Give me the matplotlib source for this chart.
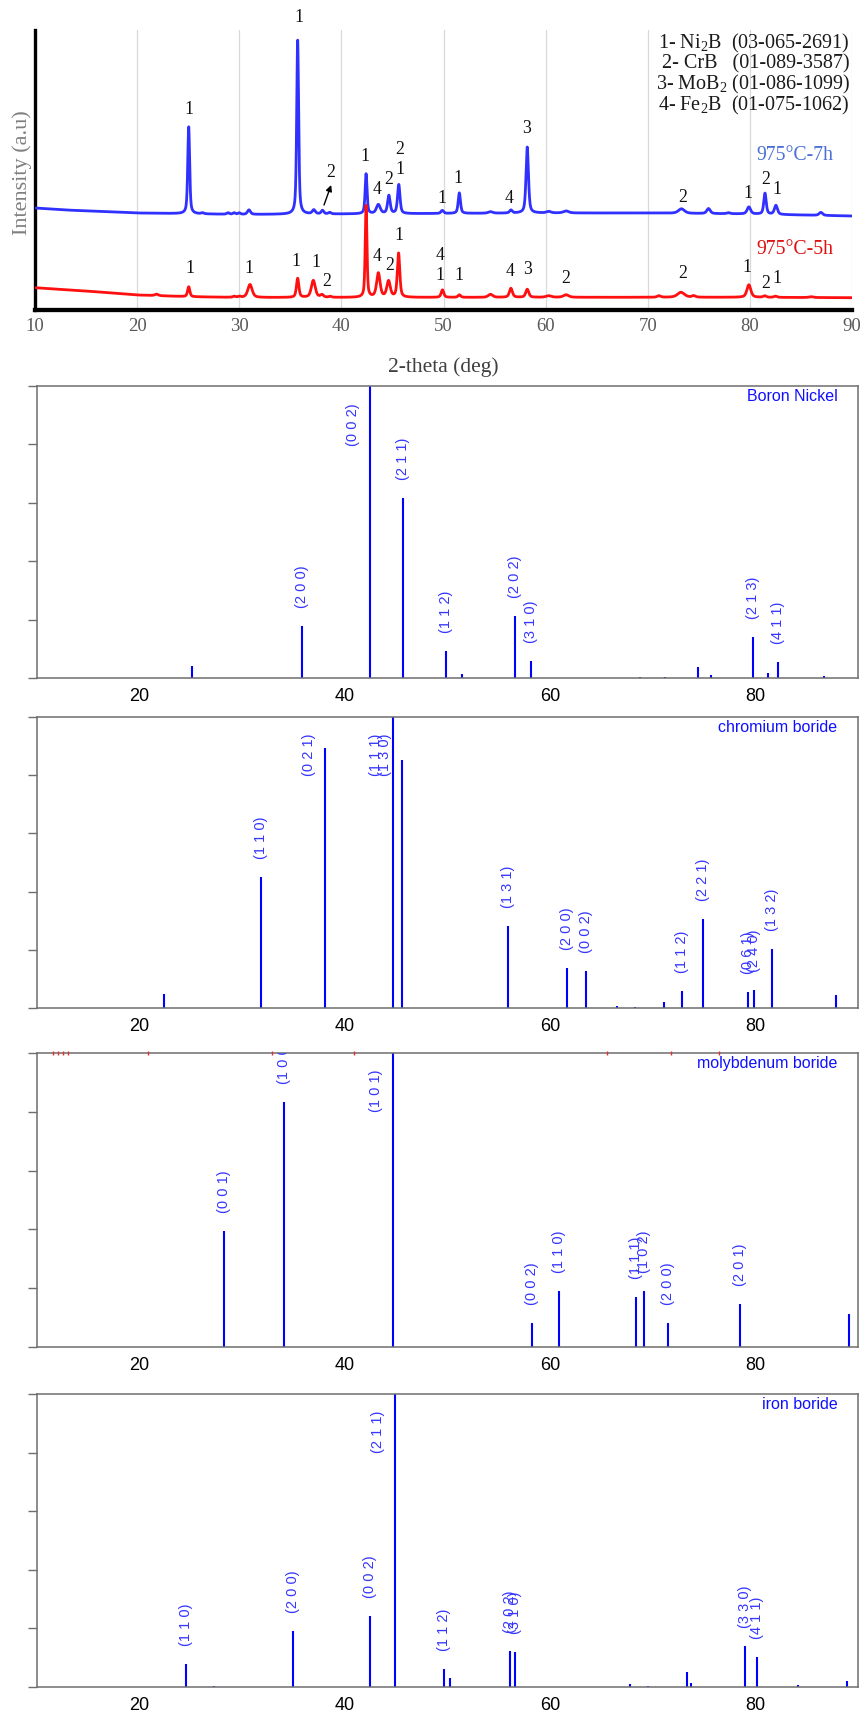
import numpy as np
import matplotlib
matplotlib.use("Agg")
import matplotlib.pyplot as plt
from matplotlib import transforms
from matplotlib.patches import Rectangle

plt.rcParams["mathtext.fontset"] = "custom"
plt.rcParams["mathtext.rm"] = "Liberation Serif"
plt.rcParams["mathtext.it"] = "Liberation Serif:italic"

SERIF = ["Liberation Serif", "DejaVu Serif"]
SANS = ["Liberation Sans", "DejaVu Sans"]

# ---------------- measured XRD patterns ----------------
# 975 °C - 7 h : background anchors and reflections (position, height above background, FWHM)
bg7_x = [10, 13, 20, 30, 40, 50, 60, 70, 80, 90]
bg7_y = [102, 100, 97, 95.5, 96, 96.5, 97, 97, 96, 94]
pk7_pos = [25.05, 26.4, 28.9, 29.5, 30.0, 30.95, 35.72, 37.3, 38.15, 38.85, 42.42,
           43.62, 44.65, 45.62, 49.88, 51.55, 54.6, 56.6, 58.2, 60.3, 62.0, 73.3,
           75.95, 77.9, 79.9, 81.48, 82.55, 86.95]
pk7_amp = [87, 1, 1.5, 1.5, 1.5, 4.5, 174, 4, 3.5, 1.5, 40,
           9, 18, 29, 3, 20.5, 1.5, 3, 66, 1.5, 2, 4.5,
           5, 1, 7, 21, 9, 3]
pk7_fwhm = [0.22, 0.3, 0.3, 0.3, 0.3, 0.35, 0.22, 0.35, 0.3, 0.3, 0.22,
            0.45, 0.3, 0.28, 0.3, 0.26, 0.5, 0.3, 0.28, 0.5, 0.6, 0.7,
            0.4, 0.4, 0.4, 0.28, 0.35, 0.4]

# 975 °C - 5 h
bg5_x = [10, 15, 20, 25, 30, 40, 60, 80, 90]
bg5_y = [22.3, 19, 15, 13.3, 12.5, 12.5, 12.7, 12.7, 12.3]
pk5_pos = [21.9, 25.05, 29.5, 30.0, 31.05, 35.72, 37.25, 38.1, 38.9, 42.42, 43.62,
           44.62, 45.6, 49.9, 51.55, 54.6, 56.6, 58.2, 60.3, 62.0, 71.1, 73.25,
           74.5, 79.9, 81.45, 82.5, 86.0]
pk5_amp = [1.5, 10, 1, 1, 13, 19, 17, 2.5, 1, 92, 24,
           16, 44, 7.5, 2.5, 3, 9, 8, 1.5, 2.5, 1.5, 5,
           1.5, 12.5, 1.5, 1.2, 0.8]
pk5_fwhm = [0.4, 0.26, 0.3, 0.3, 0.5, 0.28, 0.45, 0.35, 0.3, 0.2, 0.4,
            0.4, 0.28, 0.3, 0.3, 0.5, 0.35, 0.35, 0.6, 0.6, 0.4, 0.8,
            0.4, 0.45, 0.35, 0.35, 0.5]

# phase-index labels on the patterns: (2theta, intensity, phase number)
marks7 = [(25.05, 200.7, "1"), (35.8, 293, "1"), (39.0, 137.3, "2"), (42.32, 153.3, "1"),
          (43.53, 120, "4"), (44.6, 130.7, "2"), (45.72, 160.7, "2"), (45.72, 140, "1"),
          (49.84, 111.7, "1"), (51.44, 131.7, "1"), (56.44, 111.7, "4"), (58.14, 181.7, "3"),
          (73.47, 112.7, "2"), (79.8, 116, "1"), (81.53, 130, "2"), (82.63, 120, "1")]
marks5 = [(25.17, 41.7, "1"), (30.98, 41.7, "1"), (35.55, 48.3, "1"), (37.48, 47.3, "1"),
          (38.53, 28.3, "2"), (43.53, 53.3, "4"), (44.74, 44, "2"), (45.62, 75, "1"),
          (49.64, 54, "4"), (49.64, 34, "1"), (51.54, 35, "1"), (56.5, 38.3, "4"),
          (58.27, 40.7, "3"), (61.93, 31.7, "2"), (73.41, 36, "2"), (79.74, 42.7, "1"),
          (81.59, 26, "2"), (82.63, 31.7, "1")]

phase_legend = ["1- Ni$_2$B  (03-065-2691)",
                "2- CrB   (01-089-3587)",
                "3- MoB$_2$ (01-086-1099)",
                "4- Fe$_2$B  (01-075-1062)"]

# ---------------- reference patterns (stick data) ----------------
ni_pos = [25.14, 35.78, 42.43, 45.62, 49.89, 51.46, 56.60, 58.10, 68.76, 71.20,
          74.38, 75.68, 79.78, 81.19, 82.22, 86.65]
ni_int = [4.2, 17.7, 100, 61.5, 9.3, 1.5, 21.3, 5.9, 0.5, 0.4,
          3.9, 1.1, 14.1, 1.7, 5.5, 0.6]
ni_hkl = ["", "(2 0 0)", "(0 0 2)", "(2 1 1)", "(1 1 2)", "", "(2 0 2)", "(3 1 0)", "", "",
          "", "", "(2 1 3)", "", "(4 1 1)", ""]

cr_pos = [22.38, 31.84, 38.11, 44.70, 45.57, 55.89, 61.62, 63.51, 66.49, 68.27,
          71.08, 72.81, 74.92, 79.30, 79.89, 81.62, 87.89]
cr_int = [4.9, 44.9, 89.5, 100, 85.3, 28.3, 13.7, 12.7, 0.8, 0.5,
          2.2, 5.7, 30.6, 5.5, 6.3, 20.3, 4.6]
cr_hkl = ["", "(1 1 0)", "(0 2 1)", "(1 1 1)", "(1 3 0)", "(1 3 1)", "(2 0 0)", "(0 0 2)", "", "",
          "", "(1 1 2)", "(2 2 1)", "(0 6 1)", "(2 4 0)", "(1 3 2)", ""]

mo_pos = [28.22, 34.11, 44.70, 58.22, 60.86, 68.32, 69.14, 71.46, 78.54, 89.08]
mo_int = [39.4, 83.2, 100, 8.1, 19.0, 17.0, 18.9, 8.0, 14.5, 11.1]
mo_hkl = ["(0 0 1)", "(1 0 0)", "(1 0 1)", "(0 0 2)", "(1 1 0)", "(1 1 1)", "(1 0 2)",
          "(2 0 0)", "(2 0 1)", ""]

fe_pos = [24.54, 27.24, 34.92, 42.49, 44.86, 49.68, 50.22, 56.11, 56.59, 67.78,
          69.57, 73.30, 73.73, 78.97, 80.16, 84.20, 88.97]
fe_int = [8.0, 0.5, 19.1, 24.1, 100, 6.0, 3.1, 12.4, 11.8, 1.0,
          0.5, 5.0, 1.4, 13.9, 10.1, 0.8, 2.0]
fe_hkl = ["(1 1 0)", "", "(2 0 0)", "(0 0 2)", "(2 1 1)", "(1 1 2)", "", "(2 0 2)", "(3 1 0)", "",
          "", "", "", "(3 3 0)", "(4 1 1)", "", ""]

# stray tick marks left on the molybdenum boride frame
mo_frame_marks = [11.6, 12.0, 12.5, 13.0, 20.8, 32.9, 40.9, 65.5, 71.8, 76.5]


def pattern(x, bg_x, bg_y, pos, amp, fwhm, eta=0.55):
    y = np.interp(x, bg_x, bg_y)
    for p, a, w in zip(pos, amp, fwhm):
        d2 = 4.0 * (x - p) ** 2 / w ** 2
        y = y + a * (eta / (1.0 + d2) + (1 - eta) * np.exp(-np.log(2) * d2))
    return y


W, H = 866, 1720
fig = plt.figure(figsize=(W / 100, H / 100), dpi=100)


def px_axes(left, top, right, bottom):
    return fig.add_axes([left / W, 1 - bottom / H, (right - left) / W, (bottom - top) / H])


# ---------------- top panel: measured patterns ----------------
ax0 = px_axes(35, 30, 852, 310)
tt = np.linspace(10, 90, 6001)
y7 = pattern(tt, bg7_x, bg7_y, pk7_pos, pk7_amp, pk7_fwhm)
y5 = pattern(tt, bg5_x, bg5_y, pk5_pos, pk5_amp, pk5_fwhm)
ax0.plot(tt, y7, color="#3030ff", lw=2.0, zorder=3)
ax0.plot(tt, y5, color="#ff1010", lw=2.0, zorder=3)
ax0.set_xlim(10, 90)
ax0.set_ylim(0, 280)
ax0.set_xticks(range(10, 91, 10))
ax0.set_yticks([])
ax0.grid(axis="x", color="#d9d9d9", lw=0.9, zorder=0)
ax0.tick_params(axis="x", length=0, pad=6, labelsize=13.5, labelcolor="#595959")
for lab in ax0.get_xticklabels():
    lab.set_family(SERIF)
for s in ("top", "right"):
    ax0.spines[s].set_visible(False)
ax0.spines["left"].set_linewidth(2.4)
ax0.spines["bottom"].set_linewidth(3.1)
ax0.spines["left"].set_color("black")
ax0.spines["bottom"].set_color("black")

ax0.add_patch(Rectangle((70.3, 183), 19.7, 97, facecolor="white", edgecolor="none", zorder=1))
for i, line in enumerate(phase_legend):
    ax0.text(89.8, 266.7 - i * 20.6, line, ha="right", va="center", fontsize=14.5,
             family=SERIF, color="#1a1a1a", zorder=4)

for x, y, s in marks7 + marks5:
    ax0.text(x, y, s, ha="center", va="center", fontsize=12.8, family=SERIF,
             color="#111111", zorder=4)
ax0.annotate("", xy=(39.0, 125), xytext=(38.3, 105),
             arrowprops=dict(arrowstyle="-|>", color="black", lw=1.0,
                             mutation_scale=9, shrinkA=0, shrinkB=0), zorder=4)
ax0.text(84.4, 155, "975°C-7h", ha="center", va="center", fontsize=14.2,
         family=SERIF, color="#4a6fd6", zorder=4)
ax0.text(84.4, 60.7, "975°C-5h", ha="center", va="center", fontsize=14.2,
         family=SERIF, color="#e01010", zorder=4)

fig.text(21.7 / W, 1 - 172.5 / H, "Intensity (a.u)", rotation=90, ha="center",
         va="center", fontsize=16, family=SERIF, color="#7f7f7f")
fig.text(443.5 / W, 1 - 366.7 / H, "2-theta (deg)", ha="center", va="center",
         fontsize=15.5, family=SERIF, color="#404040")


# ---------------- reference stick patterns ----------------
def stick_panel(ax, pos, inten, hkl, title):
    ax.vlines(pos, 0, inten, colors="#0000ff", lw=1.5, zorder=2)
    ax.set_xlim(10, 90)
    ax.set_ylim(0, 100)
    ax.set_xticks([20, 40, 60, 80])
    ax.set_yticks([0, 20, 40, 60, 80, 100])
    ax.set_yticklabels([])
    ax.tick_params(axis="y", direction="out", length=6.5, width=1.0, color="#6e6e6e")
    ax.tick_params(axis="x", length=0, pad=7, labelsize=13)
    for lab in ax.get_xticklabels():
        lab.set_family(SANS)
    for sp in ax.spines.values():
        sp.set_color("#6e6e6e")
        sp.set_linewidth(1.1)
    above = transforms.offset_copy(ax.transData, fig=fig, x=0, y=13, units="points")
    near_top = transforms.offset_copy(
        transforms.blended_transform_factory(ax.transData, ax.transAxes),
        fig=fig, x=-12.2, y=-12.2, units="points")
    for p, h, lab in zip(pos, inten, hkl):
        if not lab:
            continue
        if h >= 85:
            ax.text(p, 1, lab, transform=near_top, rotation=90, ha="center", va="top",
                    fontsize=10.5, family=SANS, color="#3535ff")
        else:
            ax.text(p, h, lab, transform=above, rotation=90, ha="center", va="bottom",
                    fontsize=10.5, family=SANS, color="#3535ff", clip_on=True)
    ax.text(0.975, 0.99, title, transform=ax.transAxes, ha="right", va="top",
            fontsize=11.5, family=SANS, color="#1010ff")


ax1 = px_axes(37, 386, 858, 678)
stick_panel(ax1, ni_pos, ni_int, ni_hkl, "Boron Nickel")
ax2 = px_axes(37, 717, 858, 1008)
stick_panel(ax2, cr_pos, cr_int, cr_hkl, "chromium boride")
ax3 = px_axes(37, 1053, 858, 1347)
stick_panel(ax3, mo_pos, mo_int, mo_hkl, "molybdenum boride")
ax3.plot(mo_frame_marks, [100] * len(mo_frame_marks), linestyle="none", marker="|",
         ms=2.5, mew=1.0, color="#e03030", clip_on=False, zorder=5)
ax4 = px_axes(37, 1394, 858, 1687)
stick_panel(ax4, fe_pos, fe_int, fe_hkl, "iron boride")

fig.savefig("out.png", dpi=100)
